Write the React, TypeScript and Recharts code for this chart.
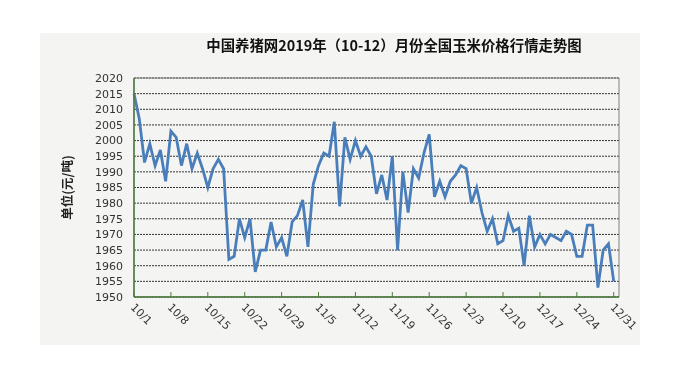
import React from "react";
import { LineChart, Line, XAxis, YAxis, CartesianGrid, ReferenceArea, Label } from "recharts";

const octPrices = [2015, 2007, 1993, 1999, 1992, 1997, 1987, 2003, 2001, 1992, 1999, 1991, 1996, 1991, 1985, 1991, 1994, 1991, 1962, 1963, 1975, 1969, 1975, 1958, 1965, 1965, 1974, 1966, 1969, 1963, 1974];
const novPrices = [1976, 1981, 1966, 1986, 1992, 1996, 1995, 2006, 1979, 2001, 1994, 2000, 1995, 1998, 1995, 1983, 1989, 1981, 1995, 1965, 1990, 1977, 1991, 1988, 1996, 2002, 1982, 1987, 1982, 1987];
const decPrices = [1989, 1992, 1991, 1980, 1985, 1977, 1971, 1975, 1967, 1968, 1976, 1971, 1972, 1960, 1976, 1966, 1970, 1967, 1970, 1969, 1968, 1971, 1970, 1963, 1963, 1973, 1973, 1953, 1965, 1967, 1955];

const xTicks = [0, 7, 14, 21, 28, 35, 42, 49, 56, 63, 70, 77, 84, 91];
const xTickLabels = ["10/1", "10/8", "10/15", "10/22", "10/29", "11/5", "11/12", "11/19", "11/26", "12/3", "12/10", "12/17", "12/24", "12/31"];
const yTicks = [1950, 1955, 1960, 1965, 1970, 1975, 1980, 1985, 1990, 1995, 2000, 2005, 2010, 2015, 2020];

const data = [...octPrices, ...novPrices, ...decPrices].map((price, day) => ({ day, price }));

const AXIS_GREEN = "#4e7d3c";

function DateTick({ x, y, payload }: any) {
  const label = xTickLabels[xTicks.indexOf(payload.value)];
  return (
    <g>
      <line x1={x} x2={x} y1={y} y2={y - 5} stroke={AXIS_GREEN} strokeWidth={1} />
      <text
        transform={`translate(${x - 4},${y + 11}) rotate(45)`}
        textAnchor="start"
        fontSize={11}
        fontFamily="DejaVu Sans"
        fill="#333"
      >
        {label}
      </text>
    </g>
  );
}

export default function App() {
  return (
    <div style={{ position: "fixed", left: 0, top: 0, width: 680, height: 370, background: "#fff" }}>
      <div style={{ position: "absolute", left: 40, top: 33, width: 600, height: 312, background: "#f4f5f2" }} />
      <div
        style={{
          position: "absolute",
          left: 0,
          width: 788,
          top: 34,
          textAlign: "center",
          fontFamily: "Noto Sans CJK SC",
          fontWeight: 700,
          fontSize: 14.4,
          color: "#111",
        }}
      >
        中国养猪网2019年（10-12）月份全国玉米价格行情走势图
      </div>
      <div style={{ position: "absolute", left: 0, top: 0 }}>
        <LineChart width={680} height={370} data={data} margin={{ top: 78, right: 61, bottom: 0, left: 0 }}>
          <CartesianGrid vertical={false} stroke="#333" strokeDasharray="2 1" />
          <XAxis
            type="number"
            dataKey="day"
            domain={[0, 92]}
            ticks={xTicks}
            interval={0}
            height={73}
            tickSize={0}
            tickMargin={0}
            tickLine={false}
            axisLine={{ stroke: AXIS_GREEN, strokeWidth: 1.5 }}
            tick={<DateTick />}
          />
          <YAxis
            type="number"
            domain={[1950, 2020]}
            ticks={yTicks}
            interval={0}
            width={134}
            tickSize={0}
            tickMargin={11}
            tickLine={false}
            axisLine={{ stroke: AXIS_GREEN, strokeWidth: 1.5 }}
            tick={{ fontSize: 11, fontFamily: "DejaVu Sans", fill: "#333" }}
          >
            <Label
              value="单位(元/吨)"
              angle={-90}
              position="insideLeft"
              offset={68}
              style={{ fontFamily: "Noto Sans CJK SC", fontWeight: 700, fontSize: 12.5, fill: "#222", textAnchor: "middle" }}
            />
          </YAxis>
          <ReferenceArea x1={0} x2={92} y1={1950} y2={2020} fill="none" stroke="#808080" strokeWidth={1} ifOverflow="visible" />
          <Line
            type="linear"
            dataKey="price"
            stroke="#4a7ebb"
            strokeWidth={2.8}
            dot={false}
            isAnimationActive={false}
          />
        </LineChart>
      </div>
    </div>
  );
}
